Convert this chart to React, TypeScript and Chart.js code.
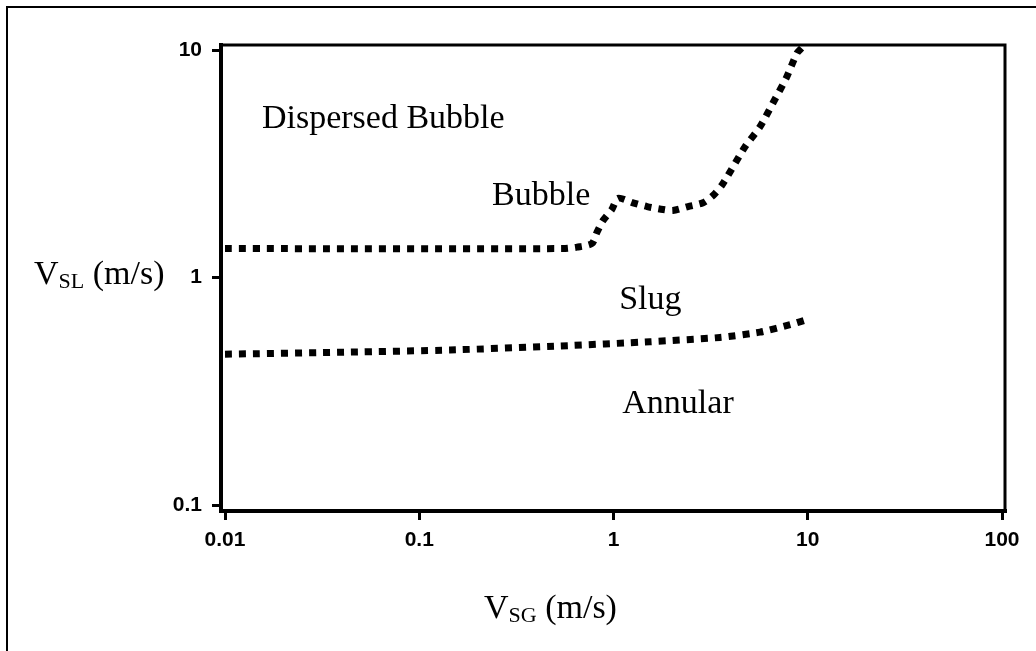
import React, { useEffect, useRef } from "react";
import { Chart, registerables } from "chart.js";

Chart.register(...registerables);

// Boundary between Dispersed Bubble / Bubble and the Slug region
const upperX = [0.01, 0.55, 0.649, 0.774, 0.822, 0.883, 0.98, 1.055, 1.26, 1.49, 1.8, 2.02, 2.42, 2.89, 3.25, 3.62, 4.75, 5.68, 6.62, 7.73, 8.81, 9.3];
const upperY = [1.34, 1.34, 1.36, 1.41, 1.58, 1.78, 1.99, 2.23, 2.13, 2.05, 1.99, 1.97, 2.05, 2.13, 2.29, 2.55, 3.75, 4.6, 5.85, 7.5, 9.7, 10.2];

// Boundary between Slug and Annular
const lowerX = [0.01, 0.044, 0.144, 0.531, 1.54, 3.53, 5.68, 8.11, 10.0];
const lowerY = [0.46, 0.47, 0.48, 0.5, 0.522, 0.545, 0.575, 0.62, 0.655];

const xTicks = [0.01, 0.1, 1, 10, 100];
const yTicks = [0.1, 1, 10];

const regionLabels = ["Dispersed Bubble", "Bubble", "Slug", "Annular"];
const regionX = [0.0155, 0.237, 1.07, 1.11];
const regionY = [4.54, 2.08, 0.727, 0.254];

const W = 1036;
const H = 651;
const SERIF = '"Liberation Serif", "Times New Roman", serif';

export default function App() {
  const ref = useRef<HTMLCanvasElement>(null);
  useEffect(() => {
    if (!ref.current) return;
    const toPts = (xs: number[], ys: number[]) => xs.map((x, i) => ({ x, y: ys[i] }));

    const framePlugin = {
      id: "frame",
      afterDraw(chart: any) {
        const { ctx, chartArea: a } = chart;
        ctx.save();
        ctx.strokeStyle = "#000";
        ctx.lineCap = "square";
        ctx.lineWidth = 3;
        ctx.beginPath();
        ctx.moveTo(a.left, a.top);
        ctx.lineTo(a.right, a.top);
        ctx.lineTo(a.right, a.bottom);
        ctx.stroke();
        ctx.lineWidth = 4;
        ctx.beginPath();
        ctx.moveTo(a.left, a.top);
        ctx.lineTo(a.left, a.bottom);
        ctx.lineTo(a.right, a.bottom);
        ctx.stroke();

        // region labels
        const xs = chart.scales.x;
        const ys = chart.scales.y;
        ctx.fillStyle = "#000";
        ctx.font = `34px ${SERIF}`;
        ctx.textAlign = "left";
        ctx.textBaseline = "alphabetic";
        regionLabels.forEach((t, i) => {
          ctx.fillText(t, xs.getPixelForValue(regionX[i]), ys.getPixelForValue(regionY[i]));
        });

        // axis titles with subscripts
        const drawTitle = (x: number, y: number, sub: string) => {
          ctx.font = `34px ${SERIF}`;
          ctx.fillText("V", x, y);
          let cx = x + ctx.measureText("V").width;
          ctx.font = `22px ${SERIF}`;
          ctx.fillText(sub, cx, y + 4);
          cx += ctx.measureText(sub).width;
          ctx.font = `34px ${SERIF}`;
          ctx.fillText(" (m/s)", cx, y);
        };
        drawTitle(34, 284, "SL");
        drawTitle(484, 618, "SG");
        ctx.restore();
      },
    };

    const tickFont = { family: '"Liberation Sans", Arial, sans-serif', size: 21, weight: "bold" as const };

    const chart = new Chart(ref.current, {
      type: "line",
      data: {
        datasets: [
          {
            data: toPts(upperX, upperY),
            borderColor: "#000",
            borderWidth: 7,
            borderDash: [7, 7],
            borderCapStyle: "butt",
            pointRadius: 0,
            tension: 0.25,
            fill: false,
          },
          {
            data: toPts(lowerX, lowerY),
            borderColor: "#000",
            borderWidth: 7,
            borderDash: [7, 7],
            borderCapStyle: "butt",
            pointRadius: 0,
            tension: 0.2,
            fill: false,
          },
        ],
      },
      options: {
        responsive: false,
        animation: false,
        devicePixelRatio: 1,
        layout: { padding: { left: 0, top: 45, right: 31, bottom: 0 } },
        plugins: { legend: { display: false }, tooltip: { enabled: false } },
        scales: {
          x: {
            type: "logarithmic",
            min: Math.pow(10, -2 - 4 / 194.25),
            max: Math.pow(10, 2 + 3 / 194.25),
            afterBuildTicks: (s: any) => {
              s.ticks = xTicks.map((v) => ({ value: v }));
            },
            afterFit: (s: any) => {
              s.height = H - 511;
            },
            ticks: {
              autoSkip: false,
              maxRotation: 0,
              color: "#000",
              font: tickFont,
              padding: 8,
              callback: (v: any) => String(v),
            },
            grid: {
              display: true,
              drawOnChartArea: false,
              drawTicks: true,
              tickLength: 9,
              tickWidth: 3,
              tickColor: "#000",
            },
            border: { display: false },
          },
          y: {
            type: "logarithmic",
            min: Math.pow(10, -1 - 6 / 227.5),
            max: Math.pow(10, 1 + 5 / 227.5),
            afterBuildTicks: (s: any) => {
              s.ticks = yTicks.map((v) => ({ value: v }));
            },
            afterFit: (s: any) => {
              s.width = 221;
            },
            ticks: {
              autoSkip: false,
              color: "#000",
              font: tickFont,
              padding: 10,
              callback: (v: any) => String(v),
            },
            grid: {
              display: true,
              drawOnChartArea: false,
              drawTicks: true,
              tickLength: 9,
              tickWidth: 3,
              tickColor: "#000",
            },
            border: { display: false },
          },
        },
      },
      plugins: [framePlugin],
    } as any);
    return () => chart.destroy();
  }, []);

  return (
    <div>
      <div
        style={{
          position: "fixed",
          left: 6,
          top: 6,
          width: W - 6,
          height: H - 6,
          borderTop: "2px solid #000",
          borderLeft: "2px solid #000",
          boxSizing: "border-box",
        }}
      />
      <canvas
        ref={ref}
        width={W}
        height={H}
        style={{ position: "fixed", left: 0, top: 0, width: W, height: H }}
      />
    </div>
  );
}
